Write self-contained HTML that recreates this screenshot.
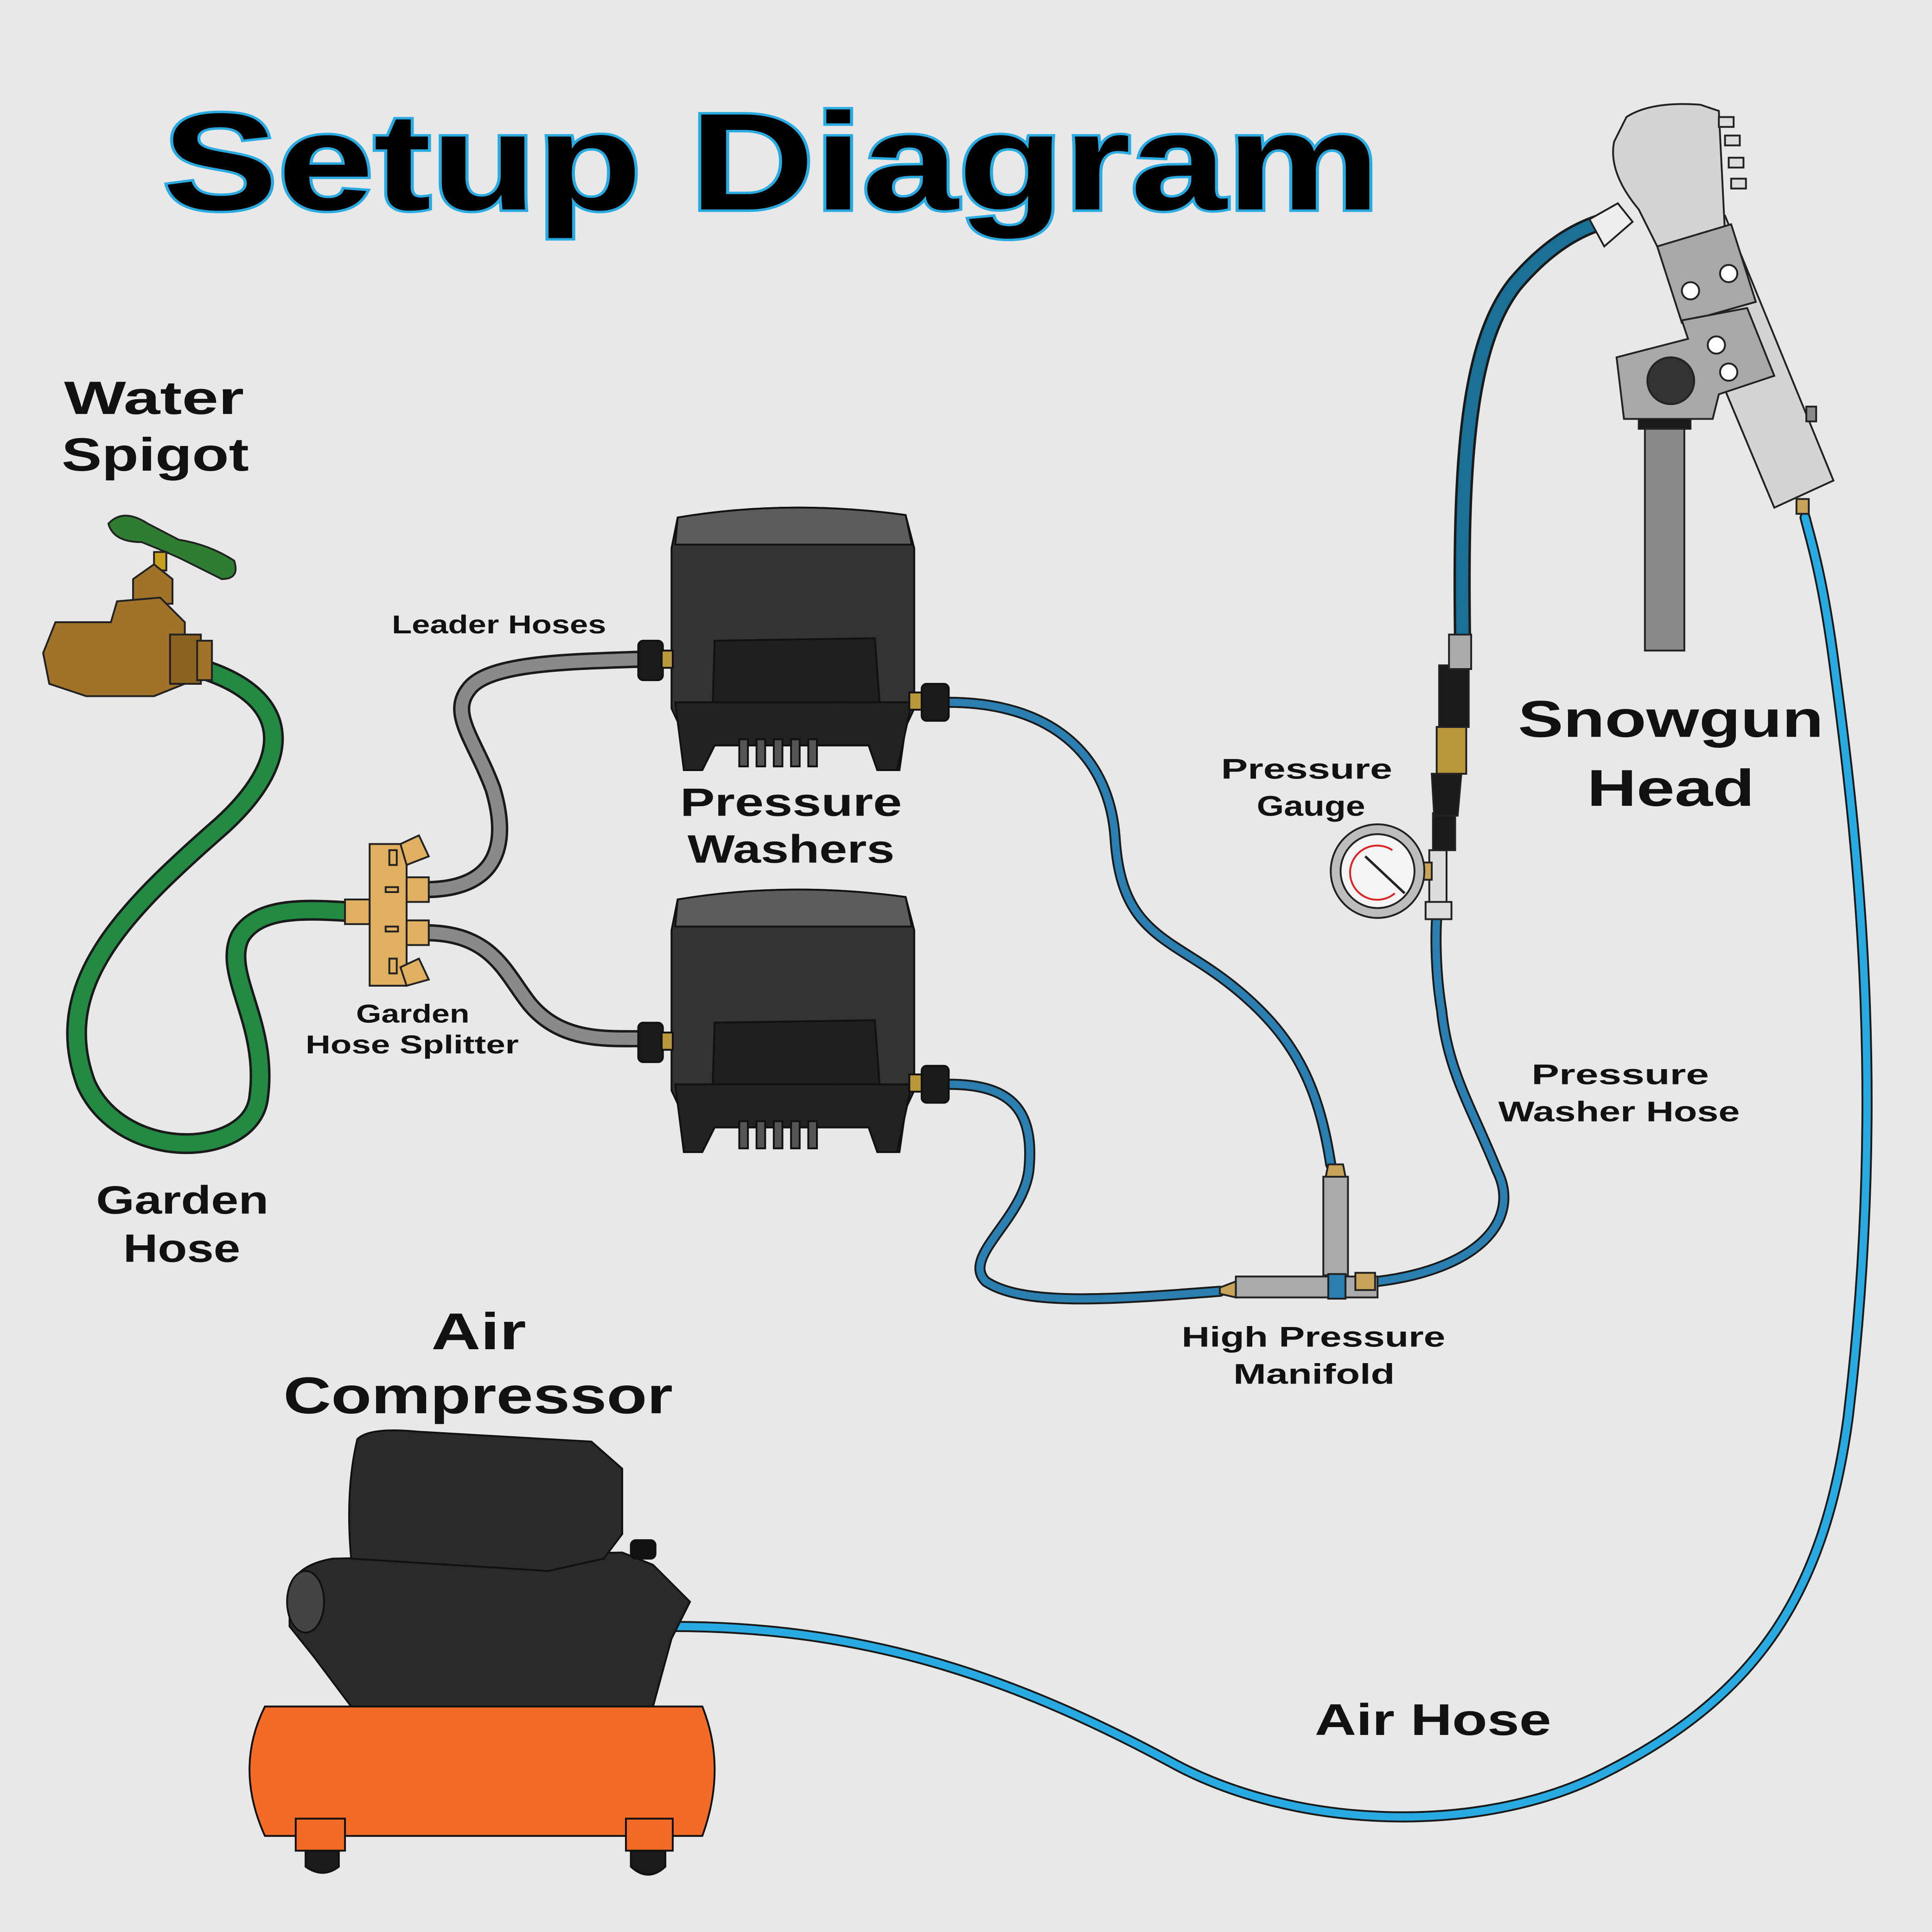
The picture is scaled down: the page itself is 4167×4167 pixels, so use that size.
<!DOCTYPE html>
<html><head><meta charset="utf-8"><style>html,body{margin:0;padding:0;background:#e8e8e8}svg{display:block}text{font-family:"Liberation Sans",sans-serif;font-weight:bold}</style></head><body>
<svg width="4167" height="4167" viewBox="0 0 1568 1568" xmlns="http://www.w3.org/2000/svg">
<rect width="1568" height="1568" fill="#e8e8e8"/>
<text x="132" y="170" font-size="112" fill="#000" stroke="#29abe2" stroke-width="4" textLength="988" lengthAdjust="spacingAndGlyphs" style="paint-order:stroke">Setup Diagram</text>

<!-- hoses -->
<g fill="none" stroke-linecap="round">
<path d="M170,545 C240,570 235,620 180,670 C100,740 40,800 70,880 C100,945 205,940 210,890 C218,830 180,790 195,760 C210,735 250,738 285,740" stroke="#1a1a1a" stroke-width="17"/>
<path d="M170,545 C240,570 235,620 180,670 C100,740 40,800 70,880 C100,945 205,940 210,890 C218,830 180,790 195,760 C210,735 250,738 285,740" stroke="#238a43" stroke-width="13"/>
<path d="M345,722 C400,722 415,690 400,640 C385,600 365,580 380,560 C395,538 460,537 520,535" stroke="#1a1a1a" stroke-width="14"/>
<path d="M345,722 C400,722 415,690 400,640 C385,600 365,580 380,560 C395,538 460,537 520,535" stroke="#8a8a8a" stroke-width="10"/>
<path d="M345,757 C400,757 410,790 430,815 C455,845 490,843 520,843" stroke="#1a1a1a" stroke-width="14"/>
<path d="M345,757 C400,757 410,790 430,815 C455,845 490,843 520,843" stroke="#8a8a8a" stroke-width="10"/>
<g stroke="#1a1a1a" stroke-width="9">
<path d="M770,570 C850,570 900,610 905,680 C910,760 950,760 1000,800 C1050,840 1070,880 1080,945"/>
<path d="M770,880 C820,880 840,900 835,950 C830,990 780,1020 800,1040 C830,1060 900,1055 990,1048"/>
<path d="M1118,1040 C1200,1030 1235,990 1215,950 C1195,900 1175,870 1170,820 C1165,790 1165,760 1166,745"/>
<path d="M545,1320 C700,1320 820,1360 950,1430 C1050,1485 1200,1490 1300,1440 C1420,1380 1480,1300 1500,1150 C1530,900 1510,700 1490,550 C1480,470 1470,440 1465,420"/>
</g>
<g stroke="#2a7fb0" stroke-width="6">
<path d="M770,570 C850,570 900,610 905,680 C910,760 950,760 1000,800 C1050,840 1070,880 1080,945"/>
<path d="M770,880 C820,880 840,900 835,950 C830,990 780,1020 800,1040 C830,1060 900,1055 990,1048"/>
<path d="M1118,1040 C1200,1030 1235,990 1215,950 C1195,900 1175,870 1170,820 C1165,790 1165,760 1166,745"/>
</g>
<path d="M545,1320 C700,1320 820,1360 950,1430 C1050,1485 1200,1490 1300,1440 C1420,1380 1480,1300 1500,1150 C1530,900 1510,700 1490,550 C1480,470 1470,440 1465,420" stroke="#29abe2" stroke-width="6"/>
<path d="M1187,520 C1185,380 1190,280 1230,230 C1260,195 1285,185 1300,180" stroke="#1a1a1a" stroke-width="14"/>
<path d="M1187,520 C1185,380 1190,280 1230,230 C1260,195 1285,185 1300,180" stroke="#1a7096" stroke-width="10"/>
</g>

<!-- manifold -->
<g stroke="#222" stroke-width="1.5">
<rect x="1074" y="955" width="20" height="80" fill="#aaa"/>
<rect x="1003" y="1036" width="115" height="17" fill="#aaa"/>
<rect x="1078" y="1034" width="14" height="20" fill="#2a7fb0"/>
<rect x="1100" y="1033" width="16" height="14" fill="#c8a45a"/>
<path d="M990,1045 L1003,1040 L1003,1053 L990,1050Z" fill="#c8a45a"/>
<path d="M1078,945 L1090,945 L1092,955 L1076,955Z" fill="#c8a45a"/>
</g>

<!-- gauge assembly -->
<g stroke="#222" stroke-width="1.5">
<rect x="1160" y="690" width="14" height="45" fill="#ddd"/>
<rect x="1157" y="732" width="21" height="14" fill="#ddd"/>
<rect x="1152" y="700" width="10" height="14" fill="#c8a45a"/>
<rect x="1163" y="660" width="18" height="30" fill="#1a1a1a"/>
<rect x="1166" y="590" width="24" height="38" fill="#b8973a"/>
<rect x="1168" y="540" width="24" height="50" fill="#1a1a1a"/>
<rect x="1176" y="515" width="18" height="28" fill="#aaa"/>
<path d="M1162,628 L1186,628 L1183,662 L1164,662Z" fill="#1a1a1a"/>
<circle cx="1118" cy="707" r="38" fill="#bdbdbd"/>
<circle cx="1118" cy="707" r="30" fill="#f4f4f4"/>
</g>
<path d="M1130,690 A22,22 0 1,0 1132,725" fill="none" stroke="#d22" stroke-width="1.5"/>
<line x1="1108" y1="695" x2="1140" y2="725" stroke="#222" stroke-width="2"/>

<!-- snowgun -->
<g stroke="#222" stroke-width="1.5">
<rect x="1335" y="330" width="32" height="198" fill="#8a8a8a"/>
<rect x="1330" y="330" width="42" height="18" fill="#1a1a1a"/>
<polygon points="1345,185 1400,175 1488,390 1440,412" fill="#d4d4d4"/>
<path d="M1320,95 Q1340,82 1380,85 L1395,90 L1400,190 L1345,200 L1330,170 Q1305,140 1310,115Z" fill="#d4d4d4"/>
<rect x="1395" y="95" width="12" height="8" fill="#ddd"/><rect x="1400" y="110" width="12" height="8" fill="#ddd"/><rect x="1403" y="128" width="12" height="8" fill="#ddd"/><rect x="1405" y="145" width="12" height="8" fill="#ddd"/>
<polygon points="1345,200 1405,182 1425,245 1365,262" fill="#a8a8a8"/>
<circle cx="1372" cy="236" r="7" fill="#fff"/><circle cx="1403" cy="222" r="7" fill="#fff"/>
<polygon points="1365,260 1418,250 1440,305 1395,320 1390,340 1318,340 1312,290 1370,275" fill="#a8a8a8"/>
<circle cx="1356" cy="309" r="19" fill="#333"/>
<circle cx="1393" cy="280" r="7" fill="#fff"/><circle cx="1403" cy="302" r="7" fill="#fff"/>
<rect x="1466" y="330" width="8" height="12" fill="#888"/>
<rect x="1458" y="405" width="10" height="12" fill="#c8a45a"/>
<polygon points="1290,178 1313,165 1325,180 1302,200" fill="#eee"/>
</g>

<!-- pressure washers -->
<g id="pw" stroke="#111" stroke-width="1.5">
<path d="M550,420 Q640,405 735,418 L742,445 L742,575 L735,590 L730,625 L712,625 L705,605 L580,605 L570,625 L555,625 L552,590 L545,575 L545,445Z" fill="#333"/>
<path d="M550,420 Q640,405 735,418 L740,442 L548,442Z" fill="#5c5c5c"/>
<path d="M580,520 L710,518 L715,585 L690,585 L680,570 L670,585 L578,585Z" fill="#1f1f1f"/>
<path d="M548,570 L740,570 L728,625 L712,625 L705,605 L580,605 L570,625 L555,625Z" fill="#222"/>
<g fill="#555"><rect x="600" y="600" width="7" height="22"/><rect x="614" y="600" width="7" height="22"/><rect x="628" y="600" width="7" height="22"/><rect x="642" y="600" width="7" height="22"/><rect x="656" y="600" width="7" height="22"/></g>
<rect x="518" y="520" width="20" height="32" rx="4" fill="#1a1a1a"/>
<rect x="537" y="528" width="9" height="14" fill="#b8973a"/>
<rect x="738" y="562" width="12" height="14" fill="#b8973a"/>
<rect x="748" y="555" width="22" height="30" rx="4" fill="#1a1a1a"/>
</g>
<use href="#pw" transform="translate(0,310)"/>

<!-- splitter -->
<g stroke="#222" stroke-width="1.5" fill="#e0b060">
<rect x="280" y="730" width="20" height="20"/>
<rect x="300" y="685" width="30" height="115"/>
<rect x="330" y="712" width="18" height="20"/>
<rect x="330" y="747" width="18" height="20"/>
<polygon points="325,685 340,678 348,695 330,702"/>
<polygon points="325,785 340,778 348,795 330,800"/>
<rect x="316" y="690" width="6" height="12" fill="none"/><rect x="313" y="720" width="10" height="4" fill="none"/><rect x="313" y="752" width="10" height="4" fill="none"/><rect x="316" y="778" width="6" height="12" fill="none"/>
</g>

<!-- spigot -->
<g stroke="#222" stroke-width="1.5">
<path d="M88,425 Q100,412 120,425 L145,438 Q170,442 190,455 Q195,470 180,470 L150,455 Q140,450 115,440 Q92,440 88,425Z" fill="#2e7d32"/>
<rect x="125" y="448" width="10" height="15" fill="#c8a020"/>
<path d="M108,470 L125,458 L140,470 L140,490 L108,490Z" fill="#a0722a"/>
<path d="M45,505 L90,505 L95,488 L130,485 L150,505 L150,555 L125,565 L70,565 L40,555 L35,530Z" fill="#a0722a"/>
<rect x="138" y="515" width="25" height="40" fill="#8b6220"/>
<rect x="160" y="520" width="12" height="32" fill="#a0722a"/>
</g>

<!-- compressor -->
<g stroke="#111" stroke-width="1.5">
<path d="M215,1385 L570,1385 Q590,1435 570,1490 L215,1490 Q190,1435 215,1385Z" fill="#f26b27"/>
<rect x="240" y="1476" width="40" height="26" fill="#f26b27"/>
<rect x="508" y="1476" width="38" height="26" fill="#f26b27"/>
<path d="M248,1502 L275,1502 L275,1515 Q262,1525 248,1515Z" fill="#1a1a1a"/>
<path d="M512,1502 L540,1502 L540,1515 Q526,1528 512,1515Z" fill="#1a1a1a"/>
<path d="M235,1290 Q240,1270 270,1265 L505,1260 L530,1270 L560,1300 L545,1330 L530,1385 L285,1385 L255,1345 L235,1320Z" fill="#2a2a2a"/>
<path d="M290,1168 Q300,1158 340,1162 L480,1170 L505,1192 L505,1245 L490,1265 L445,1275 L285,1265 Q280,1210 290,1168Z" fill="#2a2a2a"/>
<rect x="512" y="1250" width="20" height="15" rx="4" fill="#111"/>
<ellipse cx="248" cy="1300" rx="15" ry="25" fill="#444"/>
</g>

<!-- labels -->
<g fill="#111">
<text x="52" y="336" font-size="38" textLength="146" lengthAdjust="spacingAndGlyphs">Water</text>
<text x="50" y="382" font-size="38" textLength="152" lengthAdjust="spacingAndGlyphs">Spigot</text>
<text x="318" y="514" font-size="21" textLength="174" lengthAdjust="spacingAndGlyphs">Leader Hoses</text>
<text x="552" y="662" font-size="32" textLength="180" lengthAdjust="spacingAndGlyphs">Pressure</text>
<text x="558" y="700" font-size="32" textLength="168" lengthAdjust="spacingAndGlyphs">Washers</text>
<text x="289" y="830" font-size="21" textLength="92" lengthAdjust="spacingAndGlyphs">Garden</text>
<text x="248" y="855" font-size="21" textLength="173" lengthAdjust="spacingAndGlyphs">Hose Splitter</text>
<text x="78" y="985" font-size="32" textLength="140" lengthAdjust="spacingAndGlyphs">Garden</text>
<text x="100" y="1024" font-size="32" textLength="95" lengthAdjust="spacingAndGlyphs">Hose</text>
<text x="350" y="1095" font-size="42" textLength="77" lengthAdjust="spacingAndGlyphs">Air</text>
<text x="230" y="1147" font-size="42" textLength="316" lengthAdjust="spacingAndGlyphs">Compressor</text>
<text x="991" y="632" font-size="23" textLength="139" lengthAdjust="spacingAndGlyphs">Pressure</text>
<text x="1020" y="662" font-size="23" textLength="88" lengthAdjust="spacingAndGlyphs">Gauge</text>
<text x="1232" y="598" font-size="42" textLength="248" lengthAdjust="spacingAndGlyphs">Snowgun</text>
<text x="1288" y="654" font-size="42" textLength="136" lengthAdjust="spacingAndGlyphs">Head</text>
<text x="1243" y="880" font-size="23" textLength="144" lengthAdjust="spacingAndGlyphs">Pressure</text>
<text x="1216" y="910" font-size="23" textLength="196" lengthAdjust="spacingAndGlyphs">Washer Hose</text>
<text x="959" y="1093" font-size="23" textLength="214" lengthAdjust="spacingAndGlyphs">High Pressure</text>
<text x="1001" y="1123" font-size="23" textLength="131" lengthAdjust="spacingAndGlyphs">Manifold</text>
<text x="1067" y="1408" font-size="36" textLength="192" lengthAdjust="spacingAndGlyphs">Air Hose</text>
</g>
</svg>
</body></html>
